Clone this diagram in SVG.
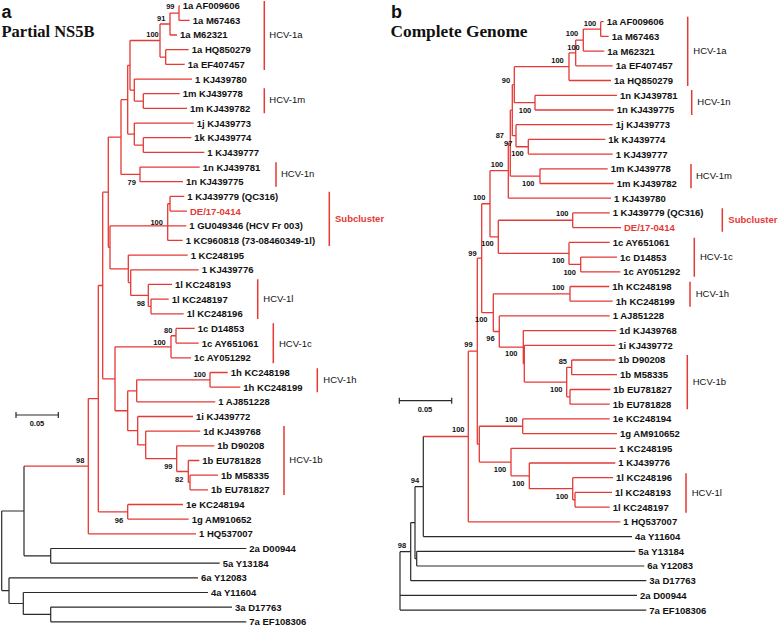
<svg xmlns="http://www.w3.org/2000/svg" width="778" height="626" viewBox="0 0 778 626">
<style>
text{font-family:"Liberation Sans",Arial,sans-serif}
.lf{font-size:9.5px;font-weight:bold;fill:#111}
.red{fill:#e53935}
.bs{font-size:7.5px;font-weight:bold;fill:#111;text-anchor:middle}
.cl{font-size:9.5px;fill:#111}
.sc{font-size:9.5px;font-weight:bold;fill:#e53935}
.r{fill:none;stroke:#e53935;stroke-width:1.3}
.k{fill:none;stroke:#2a2a2a;stroke-width:1.2}
.bar{fill:none;stroke:#e53935;stroke-width:1.5}
.ttl{font-family:"Liberation Serif","Times New Roman",serif;font-size:17px;font-weight:bold;fill:#111}
.pl{font-size:18px;font-weight:bold;fill:#111}
</style>
<rect width="778" height="626" fill="#fff"/>
<g id="titles">
<text class="pl" x="1.5" y="18">a</text>
<text class="ttl" x="1.5" y="37" textLength="93" lengthAdjust="spacingAndGlyphs">Partial NS5B</text>
<text class="pl" x="391" y="18">b</text>
<text class="ttl" x="390.5" y="37" textLength="137" lengthAdjust="spacingAndGlyphs">Complete Genome</text>
</g>
<g id="connectors">
<path class="r" d="M179 5.7V20.4M179 5.7H179.7M179 20.4H189.7M170 13.05V35M170 13.05H179M170 35H177M165.7 49.7V64.4M165.7 49.7H188.7M165.7 64.4H184.7M160 24V57.05M160 24H170M160 57.05H165.7M130 40.5V90.1M130 40.5H160M130 90.1H134.3M134.3 79.1V101.05M134.3 79.1H192M134.3 101.05H143.3M143.3 93.7V108.4M143.3 93.7H179.7M143.3 108.4H187M143.3 137.7V152.4M143.3 137.7H191.3M143.3 152.4H204.3M134.3 123.1V145.05M134.3 123.1H193.7M134.3 145.05H143.3M127.7 65.3V134.1M127.7 65.3H130M127.7 134.1H134.3M140 167.1V181.7M140 167.1H199.7M140 181.7H183M121 99.7V174.4M121 99.7H127.7M121 174.4H140M170 196.4V211.1M170 196.4H184.3M170 211.1H187M167.7 203.75V240.4M167.7 203.75H170M167.7 225.8H186.3M167.7 240.4H182.7M151 299.1V313.8M151 299.1H168.7M151 313.8H183.7M148.3 284.4V306.45M148.3 284.4H172M148.3 306.45H151M130.7 269.8V295.4M130.7 269.8H198.7M130.7 295.4H148.3M128.3 255.1V282.6M128.3 255.1H187.7M128.3 282.6H130.7M110 225.8V268.9M110 225.8H167.7M110 268.9H128.3M108.3 137.05V247.35M108.3 137.05H121M108.3 247.35H110M176 328.4V343.1M176 328.4H194.7M176 343.1H198.7M171 335.75V357.8M171 335.75H176M171 357.8H191M210 372.5V387.1M210 372.5H227.7M210 387.1H240.3M136.7 379.8V401.8M136.7 379.8H210M136.7 401.8H215.3M190 475.1V489.8M190 475.1H218M190 489.8H208M188.3 460.5V482.45M188.3 460.5H199.3M188.3 482.45H190M176.7 445.8V471.5M176.7 445.8H214.3M176.7 471.5H188.3M145.7 431.1V458.65M145.7 431.1H200.3M145.7 458.65H176.7M137.7 416.5V444.9M137.7 416.5H193M137.7 444.9H145.7M127.7 390.8V430.7M127.7 390.8H136.7M127.7 430.7H137.7M115 346.8V410.75M115 346.8H171M115 410.75H127.7M102.7 192.2V378.8M102.7 192.2H108.3M102.7 378.8H115M127.7 504.5V519.1M127.7 504.5H183M127.7 519.1H188.7M98.3 285.5V511.8M98.3 285.5H102.7M98.3 511.8H127.7M88.3 398.6V533.8M88.3 398.6H98.3M88.3 533.8H196M24 466.2H88.3"/>
<path class="k" d="M24 466.2V555.8M24 555.8H50.7M50.7 548.5V563.1M50.7 548.5H246.3M50.7 563.1H219.7M1.7 511V590.6M1.7 511H24M1.7 590.6H9M9 577.8V603.5M9 577.8H198M9 603.5H23.3M23.3 592.5V614.45M23.3 592.5H208M23.3 614.45H50.7M50.7 607.1V621.8M50.7 607.1H232M50.7 621.8H246.3"/>
<path class="r" d="M600.7 21.7V36.4M600.7 21.7H603.7M600.7 36.4H608.7M583.3 29.05V51.1M583.3 29.05H600.7M583.3 51.1H604.3M575.7 40.1V65.8M575.7 40.1H583.3M575.7 65.8H612.7M569 52.95V80.5M569 52.95H575.7M569 80.5H611M535 95.3V110M535 95.3H617M535 110H613.7M514.3 66.7V102.65M514.3 66.7H569M514.3 102.65H535M528.3 139.4V154.1M528.3 139.4H605.3M528.3 154.1H612.7M516 124.7V146.75M516 124.7H612.7M516 146.75H528.3M512.3 84.7V135.7M512.3 84.7H514.3M512.3 135.7H516M540 168.8V183.5M540 168.8H607.7M540 183.5H613.7M510.3 110.2V176.15M510.3 110.2H512.3M510.3 176.15H540M508.3 143.2V198.2M508.3 143.2H510.3M508.3 198.2H611M572.7 212.9V227.6M572.7 212.9H609.7M572.7 227.6H621M580.7 257.1V271.8M580.7 257.1H617M580.7 271.8H620.3M569 242.4V264.45M569 242.4H609.7M569 264.45H580.7M498.3 220.25V253.4M498.3 220.25H572.7M498.3 253.4H569M490 170.7V236.8M490 170.7H508.3M490 236.8H498.3M570 286.5V301.2M570 286.5H609.3M570 301.2H612.7M571.7 360V374.7M571.7 360H615.3M571.7 374.7H617M570 389.5V404.2M570 389.5H610.3M570 404.2H609.7M566.7 367.35V396.85M566.7 367.35H571.7M566.7 396.85H570M524.3 345.3V382.1M524.3 345.3H615.3M524.3 382.1H566.7M523.3 330.6V363.7M523.3 330.6H616.3M523.3 363.7H524.3M499.3 315.9V347.15M499.3 315.9H609.7M499.3 347.15H523.3M493.3 293.85V331.5M493.3 293.85H570M493.3 331.5H499.3M481.7 203.75V312.7M481.7 203.75H490M481.7 312.7H493.3M522.7 418.9V433.6M522.7 418.9H609.7M522.7 433.6H617M575 492.4V507.1M575 492.4H612M575 507.1H609.7M572.7 477.7V499.75M572.7 477.7H613M572.7 499.75H575M529.3 463V488.7M529.3 463H615.3M529.3 488.7H572.7M511 448.3V475.85M511 448.3H616M511 475.85H529.3M479.3 426.25V462.1M479.3 426.25H522.7M479.3 462.1H511M477.3 258.2V444.2M477.3 258.2H481.7M477.3 444.2H479.3M468.3 351.2V521.8M468.3 351.2H477.3M468.3 521.8H620.3M423.3 436.5H468.3"/>
<path class="k" d="M423.3 436.5V536.6M423.3 536.6H632M416.7 551.3V566M416.7 551.3H635.3M416.7 566H644.3M415 486.55V558.65M415 486.55H423.3M415 558.65H416.7M410.7 522.6V580.7M410.7 522.6H415M410.7 580.7H646.3M400 551.65V610.1M400 551.65H410.7M400 595.4H637M400 610.1H646.3"/>
</g>
<g id="bootstrap">
<text class="bs" x="170.3" y="8.7">99</text>
<text class="bs" x="161.2" y="20.6">91</text>
<text class="bs" x="152.5" y="37">100</text>
<text class="bs" x="131.7" y="185">79</text>
<text class="bs" x="156.7" y="225">100</text>
<text class="bs" x="140.8" y="306">98</text>
<text class="bs" x="168.2" y="333.3">80</text>
<text class="bs" x="159.5" y="345">100</text>
<text class="bs" x="199.7" y="376.8">100</text>
<text class="bs" x="168.3" y="469">99</text>
<text class="bs" x="179.2" y="482.3">82</text>
<text class="bs" x="119" y="522.5">96</text>
<text class="bs" x="80.2" y="463">98</text>
<text class="bs" x="590" y="25.5">100</text>
<text class="bs" x="572" y="36">100</text>
<text class="bs" x="573.5" y="49.5">100</text>
<text class="bs" x="557.5" y="63">100</text>
<text class="bs" x="506" y="82.8">90</text>
<text class="bs" x="525" y="112.8">100</text>
<text class="bs" x="499.8" y="138">87</text>
<text class="bs" x="508.2" y="145.6">97</text>
<text class="bs" x="517.5" y="156">100</text>
<text class="bs" x="528.3" y="185.5">100</text>
<text class="bs" x="497" y="166.8">100</text>
<text class="bs" x="479.2" y="199.5">100</text>
<text class="bs" x="562.3" y="216">100</text>
<text class="bs" x="487.5" y="246">100</text>
<text class="bs" x="558.3" y="262.8">100</text>
<text class="bs" x="569.7" y="274.5">100</text>
<text class="bs" x="472.5" y="256">99</text>
<text class="bs" x="558.3" y="289.5">100</text>
<text class="bs" x="481.3" y="322">100</text>
<text class="bs" x="490.5" y="341">96</text>
<text class="bs" x="511.3" y="356">100</text>
<text class="bs" x="562.8" y="363.8">85</text>
<text class="bs" x="556.3" y="391.8">100</text>
<text class="bs" x="468.5" y="346.8">99</text>
<text class="bs" x="511.3" y="421.8">100</text>
<text class="bs" x="458.3" y="432">100</text>
<text class="bs" x="500" y="471.8">100</text>
<text class="bs" x="518.3" y="485.5">100</text>
<text class="bs" x="562" y="498.5">100</text>
<text class="bs" x="415" y="482.8">94</text>
<text class="bs" x="402" y="547.8">98</text>
</g>
<g id="scalebars">
<path class="k" d="M16 415H58.3M16 412V418M58.3 412V418M399.3 400.7H451.7M399.3 397.7V403.7M451.7 397.7V403.7"/>
<text class="bs" x="37" y="426">0.05</text>
<text class="bs" x="425" y="411.7">0.05</text>
</g>
<g id="clades">
<path class="bar" d="M264.3 1V70M264.3 88.3V113.3M276 162.3V186.7M329.3 191.7V246M257.7 279.3V319M273.3 323.3V363.3M317.3 368.3V392.3M284 426V495M687.7 16.7V86M691.7 90V115M691 164V188.3M722.3 208.3V231.7M694.3 237.7V276.7M690 281.7V306.7M687.3 355V409.3M686 473.3V512.7"/>
<g id="a_HCV-1a"><text class="cl" x="269.3" y="37.7">HCV-1a</text></g>
<g id="a_HCV-1m"><text class="cl" x="269.3" y="103.4">HCV-1m</text></g>
<g id="a_HCV-1n"><text class="cl" x="281" y="177.4">HCV-1n</text></g>
<g id="a_Subcluster"><text class="sc" x="335" y="221.7">Subcluster</text></g>
<g id="a_HCV-1l"><text class="cl" x="263.3" y="301.7">HCV-1l</text></g>
<g id="a_HCV-1c"><text class="cl" x="279" y="346.7">HCV-1c</text></g>
<g id="a_HCV-1h"><text class="cl" x="323.3" y="383.4">HCV-1h</text></g>
<g id="a_HCV-1b"><text class="cl" x="289.3" y="463.4">HCV-1b</text></g>
<g id="b_HCV-1a"><text class="cl" x="693.3" y="54.4">HCV-1a</text></g>
<g id="b_HCV-1n"><text class="cl" x="697.3" y="105.1">HCV-1n</text></g>
<g id="b_HCV-1m"><text class="cl" x="696" y="179.1">HCV-1m</text></g>
<g id="b_Subcluster"><text class="sc" x="728.3" y="223.4">Subcluster</text></g>
<g id="b_HCV-1c"><text class="cl" x="700" y="260.1">HCV-1c</text></g>
<g id="b_HCV-1h"><text class="cl" x="695.7" y="297.4">HCV-1h</text></g>
<g id="b_HCV-1b"><text class="cl" x="692.7" y="385.1">HCV-1b</text></g>
<g id="b_HCV-1l"><text class="cl" x="691.7" y="495.7">HCV-1l</text></g>
</g>
<g id="leaves-a">
<g id="a_AF009606"><text class="lf" x="182.7" y="9.1">1a AF009606</text></g>
<g id="a_M67463"><text class="lf" x="192.7" y="23.8">1a M67463</text></g>
<g id="a_M62321"><text class="lf" x="180" y="38.4">1a M62321</text></g>
<g id="a_HQ850279"><text class="lf" x="191.7" y="53.1">1a HQ850279</text></g>
<g id="a_EF407457"><text class="lf" x="187.7" y="67.8">1a EF407457</text></g>
<g id="a_KJ439780"><text class="lf" x="195" y="82.5">1 KJ439780</text></g>
<g id="a_KJ439778"><text class="lf" x="182.7" y="97.1">1m KJ439778</text></g>
<g id="a_KJ439782"><text class="lf" x="190" y="111.8">1m KJ439782</text></g>
<g id="a_KJ439773"><text class="lf" x="196.7" y="126.5">1j KJ439773</text></g>
<g id="a_KJ439774"><text class="lf" x="194.3" y="141.1">1k KJ439774</text></g>
<g id="a_KJ439777"><text class="lf" x="207.3" y="155.8">1 KJ439777</text></g>
<g id="a_KJ439781"><text class="lf" x="202.7" y="170.5">1n KJ439781</text></g>
<g id="a_KJ439775"><text class="lf" x="186" y="185.1">1n KJ439775</text></g>
<g id="a_KJ439779"><text class="lf" x="187.3" y="199.8">1 KJ439779 (QC316)</text></g>
<g id="a_DE17-0414"><text class="lf red" x="190" y="214.5">DE/17-0414</text></g>
<g id="a_GU049346"><text class="lf" x="189.3" y="229.2">1 GU049346 (HCV Fr 003)</text></g>
<g id="a_KC960818"><text class="lf" x="185.7" y="243.8">1 KC960818 (73-08460349-1l)</text></g>
<g id="a_KC248195"><text class="lf" x="190.7" y="258.5">1 KC248195</text></g>
<g id="a_KJ439776"><text class="lf" x="201.7" y="273.2">1 KJ439776</text></g>
<g id="a_KC248193"><text class="lf" x="175" y="287.8">1l KC248193</text></g>
<g id="a_KC248197"><text class="lf" x="171.7" y="302.5">1l KC248197</text></g>
<g id="a_KC248196"><text class="lf" x="186.7" y="317.2">1l KC248196</text></g>
<g id="a_D14853"><text class="lf" x="197.7" y="331.8">1c D14853</text></g>
<g id="a_AY651061"><text class="lf" x="201.7" y="346.5">1c AY651061</text></g>
<g id="a_AY051292"><text class="lf" x="194" y="361.2">1c AY051292</text></g>
<g id="a_KC248198"><text class="lf" x="230.7" y="375.9">1h KC248198</text></g>
<g id="a_KC248199"><text class="lf" x="243.3" y="390.5">1h KC248199</text></g>
<g id="a_AJ851228"><text class="lf" x="218.3" y="405.2">1 AJ851228</text></g>
<g id="a_KJ439772"><text class="lf" x="196" y="419.9">1i KJ439772</text></g>
<g id="a_KJ439768"><text class="lf" x="203.3" y="434.5">1d KJ439768</text></g>
<g id="a_D90208"><text class="lf" x="217.3" y="449.2">1b D90208</text></g>
<g id="a_EU781828"><text class="lf" x="202.3" y="463.9">1b EU781828</text></g>
<g id="a_M58335"><text class="lf" x="221" y="478.5">1b M58335</text></g>
<g id="a_EU781827"><text class="lf" x="211" y="493.2">1b EU781827</text></g>
<g id="a_KC248194"><text class="lf" x="186" y="507.9">1e KC248194</text></g>
<g id="a_AM910652"><text class="lf" x="191.7" y="522.5">1g AM910652</text></g>
<g id="a_HQ537007"><text class="lf" x="199" y="537.2">1 HQ537007</text></g>
<g id="a_D00944"><text class="lf" x="249.3" y="551.9">2a D00944</text></g>
<g id="a_Y13184"><text class="lf" x="222.7" y="566.5">5a Y13184</text></g>
<g id="a_Y12083"><text class="lf" x="201" y="581.2">6a Y12083</text></g>
<g id="a_Y11604"><text class="lf" x="211" y="595.9">4a Y11604</text></g>
<g id="a_D17763"><text class="lf" x="235" y="610.5">3a D17763</text></g>
<g id="a_EF108306"><text class="lf" x="249.3" y="625.2">7a EF108306</text></g>
</g>
<g id="leaves-b">
<g id="b_AF009606"><text class="lf" x="606.7" y="25.1">1a AF009606</text></g>
<g id="b_M67463"><text class="lf" x="611.7" y="39.8">1a M67463</text></g>
<g id="b_M62321"><text class="lf" x="607.3" y="54.5">1a M62321</text></g>
<g id="b_EF407457"><text class="lf" x="615.7" y="69.2">1a EF407457</text></g>
<g id="b_HQ850279"><text class="lf" x="614" y="83.9">1a HQ850279</text></g>
<g id="b_KJ439781"><text class="lf" x="620" y="98.7">1n KJ439781</text></g>
<g id="b_KJ439775"><text class="lf" x="616.7" y="113.4">1n KJ439775</text></g>
<g id="b_KJ439773"><text class="lf" x="615.7" y="128.1">1j KJ439773</text></g>
<g id="b_KJ439774"><text class="lf" x="608.3" y="142.8">1k KJ439774</text></g>
<g id="b_KJ439777"><text class="lf" x="615.7" y="157.5">1 KJ439777</text></g>
<g id="b_KJ439778"><text class="lf" x="610.7" y="172.2">1m KJ439778</text></g>
<g id="b_KJ439782"><text class="lf" x="616.7" y="186.9">1m KJ439782</text></g>
<g id="b_KJ439780"><text class="lf" x="614" y="201.6">1 KJ439780</text></g>
<g id="b_KJ439779"><text class="lf" x="612.7" y="216.3">1 KJ439779 (QC316)</text></g>
<g id="b_DE17-0414"><text class="lf red" x="624" y="231">DE/17-0414</text></g>
<g id="b_AY651061"><text class="lf" x="612.7" y="245.8">1c AY651061</text></g>
<g id="b_D14853"><text class="lf" x="620" y="260.5">1c D14853</text></g>
<g id="b_AY051292"><text class="lf" x="623.3" y="275.2">1c AY051292</text></g>
<g id="b_KC248198"><text class="lf" x="612.3" y="289.9">1h KC248198</text></g>
<g id="b_KC248199"><text class="lf" x="615.7" y="304.6">1h KC248199</text></g>
<g id="b_AJ851228"><text class="lf" x="612.7" y="319.3">1 AJ851228</text></g>
<g id="b_KJ439768"><text class="lf" x="619.3" y="334">1d KJ439768</text></g>
<g id="b_KJ439772"><text class="lf" x="618.3" y="348.7">1i KJ439772</text></g>
<g id="b_D90208"><text class="lf" x="618.3" y="363.4">1b D90208</text></g>
<g id="b_M58335"><text class="lf" x="620" y="378.1">1b M58335</text></g>
<g id="b_EU781827"><text class="lf" x="613.3" y="392.9">1b EU781827</text></g>
<g id="b_EU781828"><text class="lf" x="612.7" y="407.6">1b EU781828</text></g>
<g id="b_KC248194"><text class="lf" x="612.7" y="422.3">1e KC248194</text></g>
<g id="b_AM910652"><text class="lf" x="620" y="437">1g AM910652</text></g>
<g id="b_KC248195"><text class="lf" x="619" y="451.7">1 KC248195</text></g>
<g id="b_KJ439776"><text class="lf" x="618.3" y="466.4">1 KJ439776</text></g>
<g id="b_KC248196"><text class="lf" x="616" y="481.1">1l KC248196</text></g>
<g id="b_KC248193"><text class="lf" x="615" y="495.8">1l KC248193</text></g>
<g id="b_KC248197"><text class="lf" x="612.7" y="510.5">1l KC248197</text></g>
<g id="b_HQ537007"><text class="lf" x="623.3" y="525.2">1 HQ537007</text></g>
<g id="b_Y11604"><text class="lf" x="635" y="540">4a Y11604</text></g>
<g id="b_Y13184"><text class="lf" x="638.3" y="554.7">5a Y13184</text></g>
<g id="b_Y12083"><text class="lf" x="647.3" y="569.4">6a Y12083</text></g>
<g id="b_D17763"><text class="lf" x="649.3" y="584.1">3a D17763</text></g>
<g id="b_D00944"><text class="lf" x="640" y="598.8">2a D00944</text></g>
<g id="b_EF108306"><text class="lf" x="649.3" y="613.5">7a EF108306</text></g>
</g>
</svg>
